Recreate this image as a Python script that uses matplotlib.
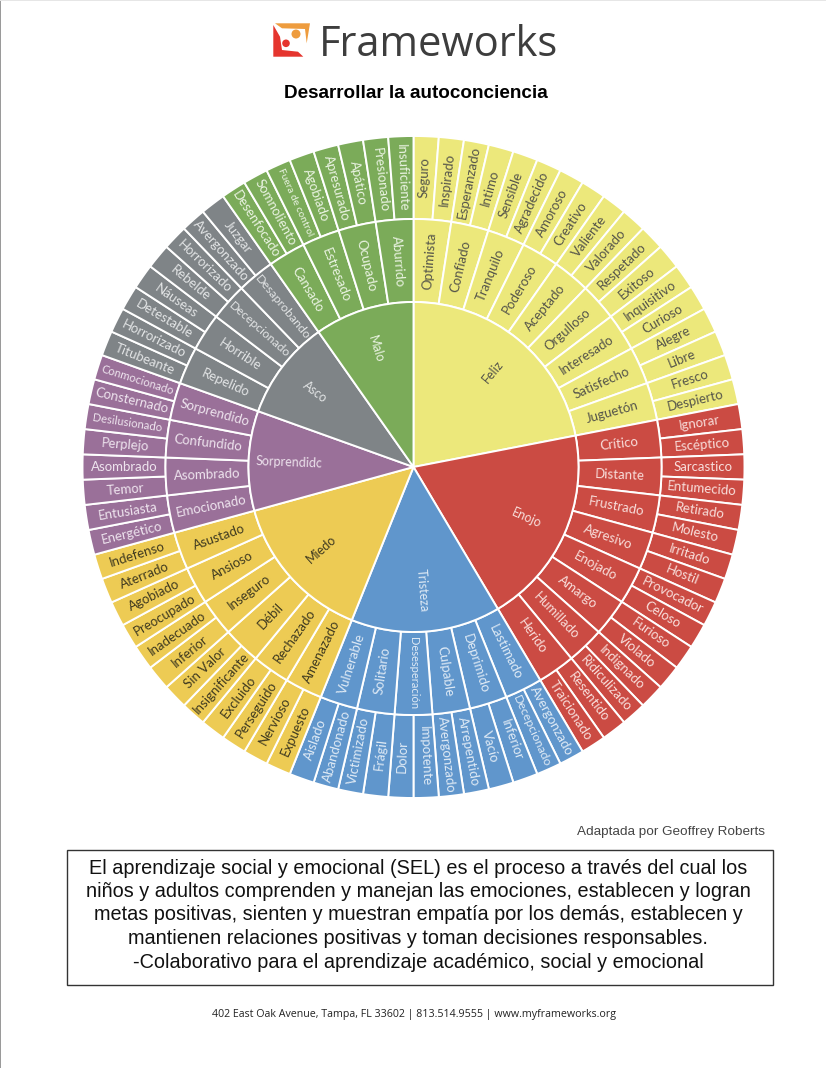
import numpy as np
import matplotlib
matplotlib.use("Agg")
import matplotlib.pyplot as plt
from matplotlib.patches import Circle, Polygon, Rectangle

# clockwise from 12 o'clock
core_labels = ["Feliz", "Enojo", "Tristeza", "Miedo", "Sorprendidc", "Asco", "Malo"]
mid_labels = [
    ["Optimista", "Confiado", "Tranquilo", "Poderoso", "Aceptado", "Orgulloso",
     "Interesado", "Satisfecho", "Juguetón"],
    ["Crítico", "Distante", "Frustrado", "Agresivo", "Enojado", "Amargo", "Humillado", "Herido"],
    ["Lastimado", "Deprimido", "Culpable", "Desesperación", "Solitario", "Vulnerable"],
    ["Amenazado", "Rechazado", "Débil", "Inseguro", "Ansioso", "Asustado"],
    ["Emocionado", "Asombrado", "Confundido", "Sorprendido"],
    ["Repelido", "Horrible", "Decepcionado", "Desaprobando"],
    ["Cansado", "Estresado", "Ocupado", "Aburrido"],
]
leaf_labels = [
    ["Seguro", "Inspirado", "Esperanzado", "Intimo", "Sensible", "Agradecido", "Amoroso",
     "Creativo", "Valiente", "Valorado", "Respetado", "Exitoso", "Inquisitivo", "Curioso",
     "Alegre", "Libre", "Fresco", "Despierto"],
    ["Ignorar", "Escéptico", "Sarcastico", "Entumecido", "Retirado", "Molesto", "Irritado",
     "Hostil", "Provocador", "Celoso", "Furioso", "Violado", "Indignado", "Ridiculizado",
     "Resentido", "Traicionado"],
    ["Avergonzado", "Decepcionado", "Inferior", "Vacío", "Arrepentido", "Avergonzado",
     "Impotente", "Dolor", "Frágil", "Victimizado", "Abandonado", "Aislado"],
    ["Expuesto", "Nervioso", "Perseguido", "Excluido", "Insignificante", "Sin Valor",
     "Inferior", "Inadecuado", "Preocupado", "Agobiado", "Aterrado", "Indefenso"],
    ["Energético", "Entusiasta", "Temor", "Asombrado", "Perplejo", "Desilusionado",
     "Consternado", "Conmocionado"],
    ["Titubeante", "Horrorizado", "Detestable", "Náuseas", "Rebelde", "Horrorizado",
     "Avergonzado", "Juzgar"],
    ["Desenfocado", "Somnoliento", "Fuera de control", "Agobiado", "Apresurado", "Apático",
     "Presionado", "Insuficiente"],
]
leaf_values = [1] * sum(len(group) for group in leaf_labels)

body_lines = [
    "El aprendizaje social y emocional (SEL) es el proceso a través del cual los",
    "niños y adultos comprenden y manejan las emociones, establecen y logran",
    "metas positivas, sienten y muestran empatía por los demás, establecen y",
    "mantienen relaciones positivas y toman decisiones responsables.",
    "-Colaborativo para el aprendizaje académico, social y emocional",
]

colors = ["#ECE87B", "#CB4B43", "#6096CC", "#EDCB54", "#9A7099", "#7F8487", "#7BAB59"]
text_colors = ["#55554a", "#f8dedb", "#dfeaf5", "#3f3a20", "#eee4ee", "#e2e4e5", "#eaf3e2"]
small_labels = {"Fuera de control": 7.3, "Conmocionado": 8.2, "Desilusionado": 8.2,
                "Desesperación": 8.0, "Decepcionado": 8.8, "Desaprobando": 8.9}

W, H = 826, 1068
CX, CY = 413.5, 467
R_IN, R_MID, R_OUT = 165, 248, 331

plt.rcParams["font.family"] = ["Liberation Sans", "DejaVu Sans"]
fig = plt.figure(figsize=(W / 100, H / 100), dpi=100)

# page overlay in pixel coordinates
page = fig.add_axes([0, 0, 1, 1])
page.set_xlim(0, W)
page.set_ylim(H, 0)
page.axis("off")

# wheel axes, 1 data unit = 1 pixel, origin at the wheel centre
half = 340
ax = fig.add_axes([(CX - half) / W, 1 - (CY + half) / H, 2 * half / W, 2 * half / H])

group_sizes = [len(group) for group in leaf_labels]
leaf_colors = [c for c, n in zip(colors, group_sizes) for _ in range(n)]
mid_sizes = [2] * sum(len(group) for group in mid_labels)
mid_colors = [c for c, group in zip(colors, mid_labels) for _ in group]


def ring(values, ring_colors, radius, width):
    ax.pie(values, radius=radius, colors=ring_colors, startangle=90, counterclock=False,
           frame=True, wedgeprops=dict(width=width, edgecolor="white", linewidth=1.4))


ring(leaf_values, leaf_colors, R_OUT, R_OUT - R_MID)
ring(mid_sizes, mid_colors, R_MID, R_MID - R_IN)
ring(group_sizes, colors, R_IN, R_IN)
ax.set_xlim(-half, half)
ax.set_ylim(-half, half)
ax.axis("off")

step = 360 / sum(group_sizes)


def put_label(label, theta, radius, color, size=9.5):
    rad = np.radians(theta)
    rotation = 90 - theta if theta <= 180 else 270 - theta
    ax.text(radius * np.sin(rad), radius * np.cos(rad), label, color=color,
            fontsize=size, family=["Lato", "DejaVu Sans"], rotation=rotation,
            rotation_mode="anchor", ha="center", va="center")


pos = 0
for i, core in enumerate(core_labels):
    n = group_sizes[i]
    put_label(core, (pos + n / 2) * step, 124, text_colors[i], 9.0)
    for j, label in enumerate(mid_labels[i]):
        put_label(label, (pos + 2 * j + 1) * step, 206.5, text_colors[i],
                  small_labels.get(label, 9.5))
    for j, label in enumerate(leaf_labels[i]):
        put_label(label, (pos + j + 0.5) * step, 289.5, text_colors[i],
                  small_labels.get(label, 9.5))
    pos += n

# logo
page.add_patch(Polygon([(275, 23.3), (310, 23.3), (306.7, 43.3), (305, 29), (282, 28.3)],
                       color="#EE9C3E", lw=0))
page.add_patch(Polygon([(273.3, 25), (273.3, 56.7), (303.3, 56.7), (298, 51.7), (282, 50), (280, 36.7)],
                       color="#E5352E", lw=0))
page.add_patch(Circle((296, 34), 4.5, color="#EE9C3E", lw=0))
page.add_patch(Circle((286, 43.3), 3.8, color="#E5352E", lw=0))
page.text(319, 55.5, "Frameworks", family=["Open Sans", "DejaVu Sans"], fontsize=30,
          color="#3d3d3d", va="baseline", ha="left")

page.text(416, 93, "Desarrollar la autoconciencia", fontsize=13.6, fontweight="bold",
          color="black", ha="center", va="center")
page.text(671, 832, "Adaptada por Geoffrey Roberts", fontsize=9.7, color="#444444",
          ha="center", va="center")

page.add_patch(Rectangle((66.5, 849.5), 706, 135, facecolor="white", edgecolor="#333333", lw=1))
for k, line in enumerate(body_lines):
    page.text(418, 868 + k * 23.5, line, fontsize=14.35, color="#111111", ha="center", va="center")

page.text(414, 1014, "402 East Oak Avenue, Tampa, FL 33602 | 813.514.9555 | www.myframeworks.org",
          family=["Open Sans", "DejaVu Sans"], fontsize=7.7, color="#222222", ha="center", va="center")

# scan edges of the page
page.add_patch(Rectangle((0, 0), 1.2, H, color="#9a9a9a", lw=0))
page.add_patch(Rectangle((0, 0), W, 1.2, color="#e6e6e6", lw=0))

fig.savefig("out.png", dpi=100)
